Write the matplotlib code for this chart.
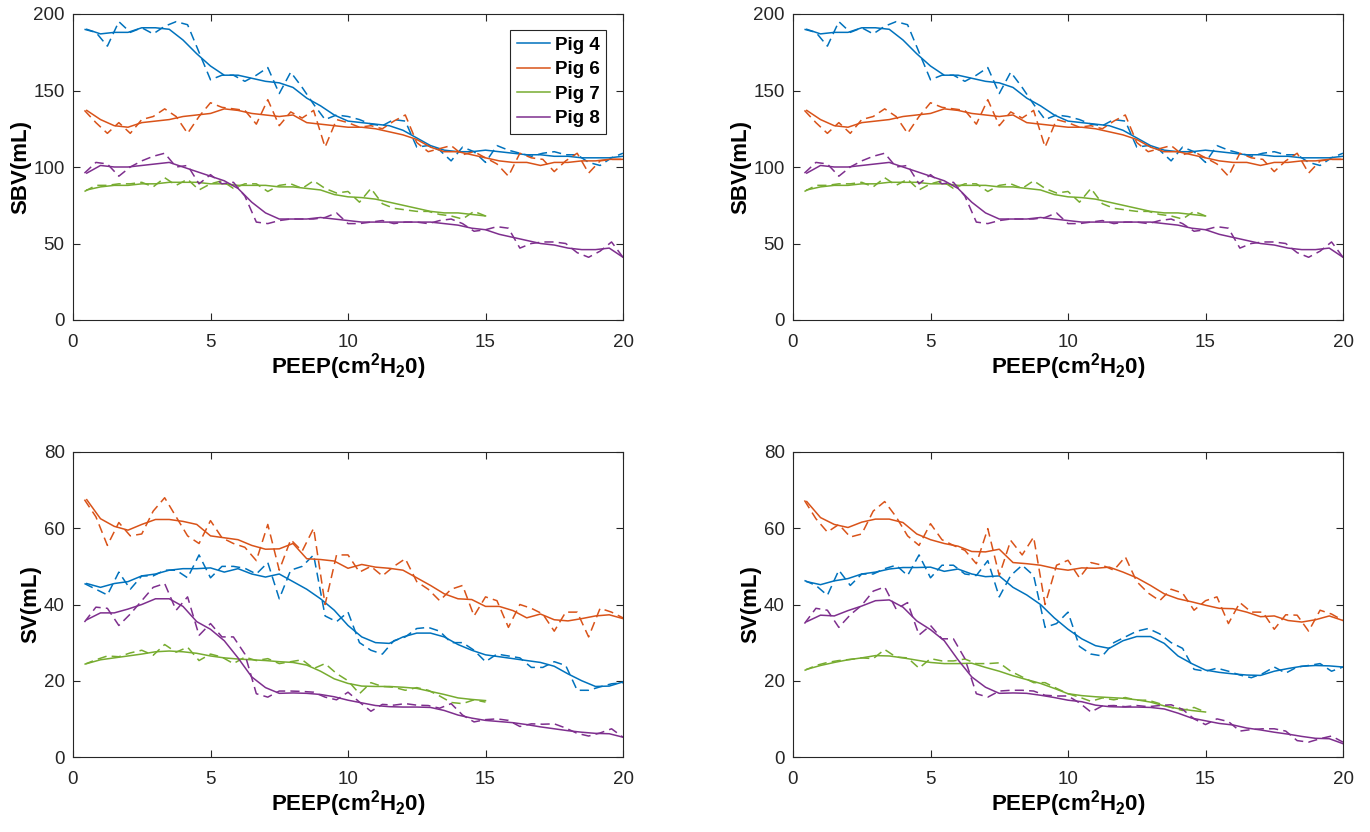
import numpy as np
import matplotlib
matplotlib.use("Agg")
from matplotlib import pyplot as plt

plt.rcParams['font.family'] = ['Liberation Sans', 'DejaVu Sans']
plt.rcParams['mathtext.fontset'] = 'custom'
plt.rcParams['mathtext.rm'] = 'Liberation Sans:bold'
plt.rcParams['mathtext.default'] = 'rm'

# x grid of the measurements (raw dashed) and of the fitted (solid) curves
x_raw = np.arange(1, 49) * 20 / 48
x_fit = np.arange(1, 41) * 0.5

pigs = ['Pig 4', 'Pig 6', 'Pig 7', 'Pig 8']
colors = ['#0072BD', '#D95319', '#77AC30', '#7E2F8E']

# ---- SBV (top panels, same data left and right)
sbv4_raw = [190, 188, 179, 195, 188, 191, 187, 192, 195, 193, 175, 157, 160, 160, 156, 160, 165, 148, 162, 152, 141, 131, 134, 133,
            131, 128, 127, 131, 130, 113, 114, 111, 104, 113, 110, 103, 114, 111, 109, 107, 109, 110, 108, 108, 103, 101, 106, 109]
sbv4_fit = [190, 187, 188, 188, 191, 191, 190, 183, 174, 166, 160, 160, 158, 156, 155, 152, 145, 140, 134, 130,
            129, 128, 127, 124, 119, 114, 111, 110, 110, 111, 110, 109, 108, 108, 107, 107, 106, 106, 106, 107]
sbv6_raw = [137, 129, 122, 129, 122, 131, 133, 138, 133, 122, 133, 142, 139, 138, 137, 128, 144, 127, 136, 132, 137, 113, 131, 129,
            126, 127, 125, 130, 134, 116, 110, 112, 114, 108, 110, 106, 102, 94, 109, 106, 105, 97, 104, 109, 96, 104, 105, 105]
sbv6_fit = [137, 131, 127, 126, 129, 130, 131, 133, 134, 135, 138, 137, 135, 134, 133, 134, 129, 128, 127, 126,
            126, 125, 123, 121, 118, 113, 110, 110, 108, 106, 104, 103, 103, 101, 103, 103, 104, 104, 105, 105]
sbv7_raw = [84, 88, 88, 89, 89, 90, 87, 93, 88, 92, 85, 89, 91, 86, 89, 89, 84, 88, 89, 86, 91, 86, 83, 84,
            77, 86, 76, 73, 72, 71, 71, 69, 68, 66, 71, 68]
sbv7_fit = [85, 87, 88, 88, 89, 89, 90, 90, 90, 89, 89, 88, 88, 88, 87, 87, 86, 85, 82, 80.5,
            80, 79, 77, 75, 73, 71, 70, 70, 69, 68]
sbv8_raw = [96, 103, 102, 94, 100, 104, 107, 109, 100, 101, 89, 95, 89, 90, 81, 64, 63, 65, 66, 66, 66, 67, 70, 63,
            63, 64, 65, 63, 64, 64, 63, 65, 66, 63, 58, 59, 61, 60, 47, 50, 51, 51, 50, 44, 41, 45, 51, 41]
sbv8_fit = [96, 101, 100, 100, 101, 102, 103, 100, 97, 94, 91, 86, 77, 70, 66, 66, 66, 67, 66, 65,
            64, 64, 64, 64, 64, 64, 63, 62, 60, 59, 56, 54, 52, 50, 49, 47, 46, 46, 47, 41]

# ---- SV, bottom left
sv4_raw = [45.5, 44, 42.5, 48.5, 44, 47.5, 47.5, 49, 49, 47, 53, 47, 50, 50, 49.5, 48, 51, 41.5, 49, 50, 53, 37, 35.5, 38,
           30, 28, 27, 30.5, 31.5, 33.7, 34, 33, 30, 30, 28, 25, 27, 26.5, 26, 23.5, 23.5, 25, 24, 17.5, 17.5, 18.4, 19.2, 19.5]
sv4_fit = [45.5, 44.5, 45.5, 46, 47.5, 48, 49, 49.4, 49.4, 49.6, 48.5, 49.4, 48, 47.2, 48, 46, 44, 41.5, 38.5, 34.5,
           31.5, 30, 29.8, 31.5, 32.5, 32.5, 31.5, 29.5, 28, 26.8, 26.3, 25.8, 25.3, 24.8, 23.8, 21.8, 20, 18.5, 18.6, 19.7]
sv6_raw = [67.5, 63, 55.5, 61.5, 58, 58.5, 64.5, 68, 63, 58, 56, 62, 57.5, 56, 55, 51.5, 61, 49, 57, 54, 60, 40, 53, 53,
           48.5, 50, 47.5, 50, 52, 46, 44, 41, 44, 45, 37, 42, 41, 34, 40, 39, 37.5, 33, 38, 38, 31.5, 39, 38, 36.5]
sv6_fit = [67.5, 62.5, 60.5, 59.5, 61, 62.3, 62.3, 61.8, 61, 58, 57.5, 57, 55.5, 54.5, 54.6, 56, 52, 51.8, 51.4, 49.5,
           50.5, 49.8, 49.5, 49, 47, 45, 42.8, 41.5, 41.3, 39.5, 39.5, 38.4, 36.5, 37.5, 36, 35.7, 36.3, 37, 37.3, 36.3]
sv7_raw = [24.3, 25.5, 26.5, 26.3, 27.3, 28, 26.7, 29.5, 27.5, 28.8, 25.3, 27, 26.2, 24.5, 26.2, 25.3, 25.8, 24.5, 25, 25.5, 23.2, 24.5, 21.9, 20,
           16.6, 19.5, 18.5, 18.3, 17.5, 18.2, 17.5, 16, 14.3, 14, 15, 14.4]
sv7_fit = [24.5, 25.5, 26, 26.5, 27, 27.6, 27.8, 27.6, 27.2, 26.5, 26, 25.7, 25.5, 25.3, 25, 24.8, 24.1, 22.5, 20.5, 19.3,
           18.6, 18.5, 18.5, 18.3, 18, 17.2, 16.4, 15.5, 15.1, 14.8]
sv8_raw = [35.4, 39.3, 39, 34.5, 37.5, 41, 44.5, 45.5, 38.5, 42, 31.9, 35, 31.5, 31.5, 27, 16.6, 15.7, 17.3, 17.3, 17.2, 17, 15.7, 15, 17,
           14.4, 12, 13.8, 13.6, 14, 13.6, 13.5, 12.8, 14, 11, 9.2, 9.8, 10, 9.6, 8, 8.7, 8.6, 8.7, 7.6, 6.2, 5.5, 6.3, 7.4, 5.2]
sv8_fit = [36, 37.8, 37.8, 38.8, 40, 41.5, 41.5, 39.5, 35.5, 33.5, 30.5, 26, 21, 18.2, 16.7, 16.8, 16.7, 16.4, 15.8, 14.9,
           14.2, 13.5, 13.2, 13.1, 13.1, 13, 12.2, 11, 10.2, 9.6, 9.3, 9, 8.5, 7.9, 7.4, 6.9, 6.5, 6.2, 6.1, 5.2]

# ---- SV, bottom right
sv4b_raw = [46.3, 45, 42.4, 49, 45, 48, 48, 49.4, 50.3, 47.6, 53, 47, 50.3, 50.3, 48, 47.6, 51.5, 42, 47.6, 50.3, 47.6, 34, 35, 38,
            29, 27, 26.5, 30, 31.5, 33, 33.7, 32.3, 30, 28.5, 23, 22.5, 23.3, 22.5, 21.5, 20.8, 21.9, 23.6, 22, 23.6, 24, 24.5, 22.5, 23.6]
sv4b_fit = [46, 45.2, 46.2, 46.8, 48, 48.5, 49.3, 49.7, 49.7, 49.8, 48.7, 49.3, 48, 47.3, 47.5, 44.5, 42.5, 40, 36.5, 33.5,
            31, 29.2, 28.5, 30.5, 31.6, 31.6, 29.8, 26.5, 24.5, 22.8, 22.2, 21.8, 21.5, 21.4, 22.5, 23.2, 23.8, 24, 23.9, 23.6]
sv6b_raw = [67.3, 62.5, 59, 61, 57.7, 58.5, 64.5, 67, 63, 58, 55.5, 61.2, 57, 55.5, 54.2, 50.7, 59.9, 47.6, 56.8, 53, 57.7, 40, 50.3, 51.6,
            47, 51, 50.3, 49, 52.5, 46, 43, 41, 44, 43, 38.5, 41, 42, 35, 40.5, 38, 38, 33.5, 37.3, 37.2, 33, 38.5, 37.5, 35.8]
sv6b_fit = [67, 62.8, 61, 60.2, 61.6, 62.4, 62.4, 61.5, 58.5, 57, 56, 55.3, 53.9, 53.8, 54.5, 51, 50.7, 50.3, 49.5, 49,
            49.6, 49.5, 49.8, 48.5, 47, 45, 42.8, 41.5, 40.7, 39.8, 39, 38.9, 38, 36.8, 37, 35.8, 35.4, 36, 37, 35.8]
sv7b_raw = [22.7, 24, 24.8, 25.3, 25.6, 26, 25.8, 28.2, 26.2, 26, 23.3, 25.8, 25.2, 25.2, 25.7, 24.5, 24.5, 24.7, 22.5, 21, 19.5, 19.5, 18, 16.6,
            15.7, 14.6, 15.5, 15, 15.6, 14.9, 14.9, 14, 13, 12.2, 13, 11.8]
sv7b_fit = [23, 24, 24.8, 25.5, 26, 26.6, 26.5, 26, 25.4, 24.8, 24.5, 24.5, 24.6, 23.5, 22.5, 21.3, 20.3, 19.3, 18, 16.6,
            16.1, 15.8, 15.6, 15.4, 15, 14.4, 13.4, 12.7, 12.2, 11.8]
sv8b_raw = [35, 39, 38.5, 34, 37.3, 39.8, 43.5, 44.6, 38.8, 40.5, 32, 34.5, 31, 31, 25.8, 16.6, 15.7, 17.3, 17.5, 17.5, 17.3, 16.2, 16, 16,
            14.2, 11.8, 13.4, 13.5, 13.2, 13.5, 13.2, 13.5, 13.7, 12.5, 10, 8.5, 10, 9.3, 6.8, 7.2, 7.4, 7.4, 6.8, 4.3, 3.9, 4.8, 5.5, 3.9]
sv8b_fit = [35.5, 37.2, 37, 38.4, 39.6, 41, 41.2, 39.3, 35.7, 33.4, 30.5, 25.5, 21, 18.3, 16.7, 16.8, 16.7, 16.2, 15.6, 14.9,
            14.5, 13.6, 13.2, 13.1, 13.1, 13, 12.6, 11.5, 10.2, 9.5, 8.8, 8.4, 7.6, 7.1, 6.5, 6, 5.4, 4.9, 4.8, 3.5]

sbv_raw = [sbv4_raw, sbv6_raw, sbv7_raw, sbv8_raw]
sbv_fit = [sbv4_fit, sbv6_fit, sbv7_fit, sbv8_fit]
svL_raw = [sv4_raw, sv6_raw, sv7_raw, sv8_raw]
svL_fit = [sv4_fit, sv6_fit, sv7_fit, sv8_fit]
svR_raw = [sv4b_raw, sv6b_raw, sv7b_raw, sv8b_raw]
svR_fit = [sv4b_fit, sv6b_fit, sv7b_fit, sv8b_fit]

fig = plt.figure(figsize=(13.7, 8.32), dpi=100)
W, H = 1370.0, 832.0
axc = '#262626'


def panel(left, top, bottom, raw, fit, ymax, ystep, ylabel, legend=False):
    ax = fig.add_axes([left / W, 1 - bottom / H, 550 / W, (bottom - top) / H])
    for i in range(4):
        r = np.array(raw[i])
        f = np.array(fit[i])
        ax.plot(x_raw[:len(r)], r, color=colors[i], lw=1.1, dashes=(6.0, 3.4))
        ax.plot(x_fit[:len(f)], f, color=colors[i], lw=1.1, label=pigs[i])
    ax.set_xlim(0, 20)
    ax.set_ylim(0, ymax)
    ax.set_xticks([0, 5, 10, 15, 20])
    ax.set_yticks(np.arange(0, ymax + 1, ystep))
    ax.tick_params(direction='in', top=True, right=True, length=5, width=0.8,
                   colors=axc, labelsize=13.5, labelcolor=axc)
    ax.tick_params(axis='x', pad=10)
    ax.tick_params(axis='y', pad=6)
    for s in ax.spines.values():
        s.set_color(axc)
        s.set_linewidth(0.8)
    ax.set_xlabel(r'PEEP(cm$^{2}$H$_{2}$0)', fontsize=16, fontweight='bold', labelpad=0)
    ax.set_ylabel(ylabel, fontsize=16, fontweight='bold', labelpad=1.5)
    if legend:
        leg = ax.legend(loc='upper right', bbox_to_anchor=(0.969, 0.948), borderaxespad=0,
                        fancybox=False, framealpha=1, edgecolor=axc, handlelength=1.75,
                        handletextpad=0.25, labelspacing=0.4, borderpad=0.35,
                        prop={'weight': 'bold', 'size': 13.5})
        leg.get_frame().set_linewidth(0.8)
    return ax


panel(73, 14, 320, sbv_raw, sbv_fit, 200, 50, 'SBV(mL)', legend=True)
panel(793, 14, 320, sbv_raw, sbv_fit, 200, 50, 'SBV(mL)')
panel(73, 452, 757, svL_raw, svL_fit, 80, 20, 'SV(mL)')
panel(793, 452, 757, svR_raw, svR_fit, 80, 20, 'SV(mL)')

fig.savefig('out.png', dpi=100)
